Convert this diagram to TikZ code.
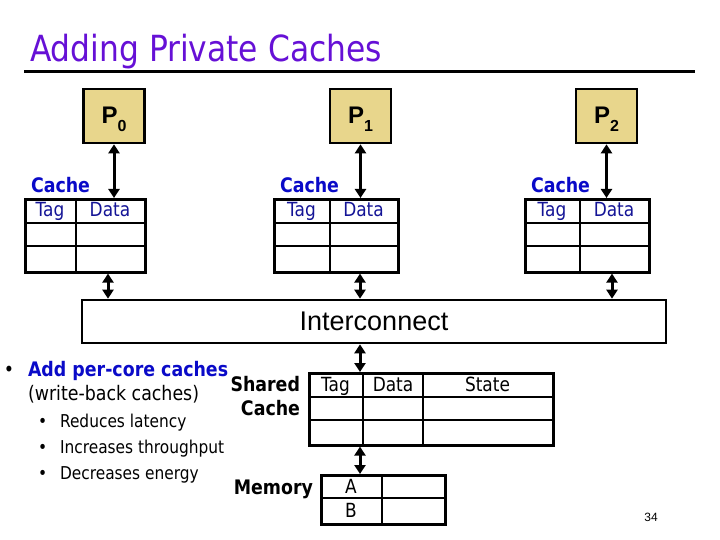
\documentclass[tikz,border=0pt]{standalone}
\usepackage{fontspec}
\setmainfont{DejaVu Sans}[FakeStretch=0.87]
\newfontfamily\arialf{Liberation Sans}
\usetikzlibrary{arrows.meta}
\definecolor{titlec}{RGB}{102,16,214}
\definecolor{bluebold}{RGB}{10,10,200}
\definecolor{bluetxt}{RGB}{20,20,150}
\definecolor{pfill}{RGB}{232,214,140}
\newcommand{\fs}[1]{\fontsize{#1}{#1}\selectfont}
\tikzset{
  tblbox/.style={draw, line width=2.6pt, inner sep=0pt, anchor=north west},
  divline/.style={line width=1.8pt},
  pbox/.style={draw, fill=pfill, line width=2.6pt, inner sep=0pt, minimum width=61pt, minimum height=54pt},
  dblarrow/.style={line width=3pt, {Triangle[width=11pt,length=9pt]}-{Triangle[width=11pt,length=9pt]}},
  txt/.style={inner sep=0pt, outer sep=0pt},
  hdrblue/.style={txt, anchor=base, text=bluetxt, font=\fs{19.5}},
  hdrblack/.style={txt, anchor=base, text=black, font=\fs{19.5}},
  cachelbl/.style={txt, anchor=base west, text=bluebold, font=\bfseries\fs{20}},
  boldlbl/.style={txt, anchor=base east, font=\bfseries\fs{20}},
}
\begin{document}
\begin{tikzpicture}[x=1pt,y=-1pt]
\useasboundingbox (0,0) rectangle (720,540);
% title
\node[txt, anchor=base west, text=titlec, font=\fs{36}] (title) at (30,62) {Adding Private Caches};
\coordinate (rl) at (24,72);
\coordinate (rr) at (695,72);
\draw[line width=3pt] (rl) -- (rr);
% processors
\node[pbox] (p0) at (114,116) {};
\node[pbox] (p1) at (360.5,116) {};
\node[pbox] (p2) at (606.5,116) {};
\foreach \n in {0,1,2}{
  \node[txt, anchor=base, font=\arialf\bfseries\fs{24}] (pt\n) at ([yshift=-8pt]p\n.center) {P\raisebox{-8pt}{\fs{16}\n}};
}
% interconnect
\node[draw, line width=2.6pt, inner sep=0pt, minimum width=584pt, minimum height=43pt, font=\arialf\fs{27}] (ic) at (374,321.5) {Interconnect};
% private caches
\foreach \n/\lx/\w/\dx/\bx in {0/24/120/76/108, 1/273/124/330/360, 2/524/124/580/612}{
  \node[tblbox, minimum width=\w pt, minimum height=73pt] (c\n) at (\lx,198) {};
  \pgfmathsetmacro{\rx}{\lx+\w}
  \pgfmathsetmacro{\tagx}{(\lx+\dx)/2}
  \pgfmathsetmacro{\datx}{(\dx+\rx)/2}
  \draw[divline] (\dx,198) -- (\dx,271);
  \draw[divline] (\lx,223) -- (\rx,223);
  \draw[divline] (\lx,246) -- (\rx,246);
  \node[hdrblue] (ct\n) at (\tagx,217) {Tag};
  \node[hdrblue] (cd\n) at (\datx,217) {Data};
  \node[cachelbl] (cl\n) at (\lx+7,193) {Cache};
  \coordinate (b\n) at (\bx,285);
  \draw[dblarrow] (p\n.south) -- (p\n.south |- c\n.north);
  \draw[dblarrow] (c\n.south -| b\n) -- (ic.north -| b\n);
}
% shared cache
\node[tblbox, minimum width=244pt, minimum height=72pt] (sc) at (308,372) {};
\draw[divline] (363,372) -- (363,444);
\draw[divline] (423,372) -- (423,444);
\draw[divline] (308,397) -- (552,397);
\draw[divline] (308,420) -- (552,420);
\node[hdrblack] (st) at (335.5,391) {Tag};
\node[hdrblack] (sd) at (393,391) {Data};
\node[hdrblack] (ss) at (487.5,391) {State};
\node[boldlbl] (shl) at (300,391) {Shared};
\node[boldlbl] (scl) at (300,415) {Cache};
% memory
\node[tblbox, minimum width=124pt, minimum height=49pt] (mem) at (320,474) {};
\draw[divline] (382,474) -- (382,523);
\draw[divline] (320,498) -- (444,498);
\node[hdrblack] (ma) at (351,493) {A};
\node[hdrblack] (mb) at (351,517) {B};
\node[boldlbl] (ml) at (313,494) {Memory};
% vertical arrows centre column
\coordinate (mx) at (360,0);
\draw[dblarrow] (ic.south -| mx) -- (sc.north -| mx);
\draw[dblarrow] (sc.south -| mx) -- (mem.north -| mx);
% bullets
\node[txt, anchor=base west, font=\fs{20}] (bu1) at (4,376) {•};
\node[txt, anchor=base west, text=bluebold, font=\bfseries\fs{20}] (t1) at (28,376) {Add per-core caches};
\node[txt, anchor=base west, font=\fs{20}] (t2) at (28,400) {(write-back caches)};
\node[txt, anchor=base west, font=\fs{17.7}] (bu2) at (38,427) {•};
\node[txt, anchor=base west, font=\fs{17.7}] (t3) at (60,427) {Reduces latency};
\node[txt, anchor=base west, font=\fs{17.7}] (bu3) at (38,453) {•};
\node[txt, anchor=base west, font=\fs{17.7}] (t4) at (60,453) {Increases throughput};
\node[txt, anchor=base west, font=\fs{17.7}] (bu4) at (38,479) {•};
\node[txt, anchor=base west, font=\fs{17.7}] (t5) at (60,479) {Decreases energy};
% page number
\node[txt, font=\arialf\fs{12}] (pg) at (651,517) {34};
\end{tikzpicture}
\end{document}
